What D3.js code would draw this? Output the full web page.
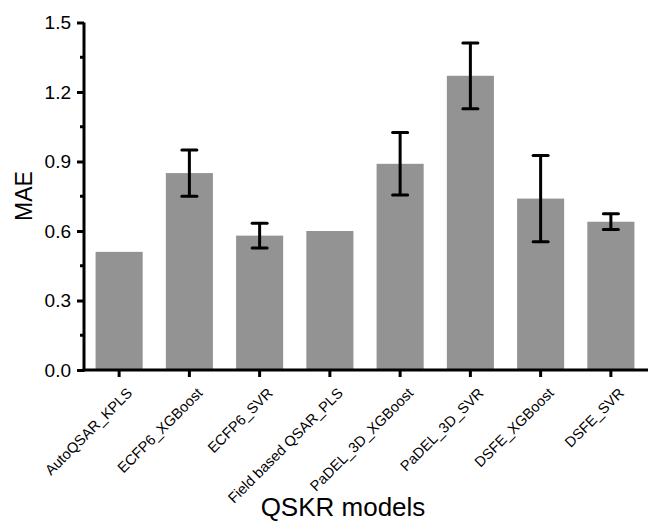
<!DOCTYPE html>
<html>
<head>
<meta charset="utf-8">
<script src="https://cdn.jsdelivr.net/npm/d3@7"></script>
<style>
  body { margin: 0; background: #fff; }
  svg, svg text { font-family: "Liberation Sans", Arial, sans-serif; }
</style>
</head>
<body>
<div id="chart"></div>
<script>
const models = ["AutoQSAR_KPLS", "ECFP6_XGBoost", "ECFP6_SVR", "Field based QSAR_PLS",
                "PaDEL_3D_XGBoost", "PaDEL_3D_SVR", "DSFE_XGBoost", "DSFE_SVR"];
const mae = [0.51, 0.85, 0.58, 0.60, 0.89, 1.27, 0.74, 0.64];
const maeErr = [0, 0.10, 0.053, 0, 0.135, 0.142, 0.186, 0.034];
const yTicks = [0, 0.3, 0.6, 0.9, 1.2, 1.5];

const W = 648, H = 523;
const plotLeft = 84, plotRight = 646, plotTop = 22.5, plotBottom = 370;

const svg = d3.select("#chart").append("svg")
    .attr("width", W)
    .attr("height", H);

const x = d3.scaleBand()
    .domain(models)
    .range([plotLeft, plotRight])
    .paddingInner(0.33)
    .paddingOuter(0.165);

const y = d3.scaleLinear()
    .domain([0, 1.5])
    .range([plotBottom, plotTop]);

// bars
svg.selectAll(".bar")
  .data(models)
  .enter().append("rect")
    .attr("class", "bar")
    .attr("x", d => x(d))
    .attr("y", (d, i) => y(mae[i]))
    .attr("width", x.bandwidth())
    .attr("height", (d, i) => y(0) - y(mae[i]))
    .attr("fill", "#939393");

// error bars
const errData = models.map((m, i) => ({ m: m, v: mae[i], e: maeErr[i] })).filter(d => d.e > 0);
const eb = svg.selectAll(".err")
  .data(errData)
  .enter().append("g")
    .attr("class", "err")
    .attr("stroke", "#000")
    .attr("stroke-width", 3);
eb.append("line")
    .attr("x1", d => x(d.m) + x.bandwidth() / 2)
    .attr("x2", d => x(d.m) + x.bandwidth() / 2)
    .attr("y1", d => y(d.v - d.e))
    .attr("y2", d => y(d.v + d.e));
eb.append("line")
    .attr("stroke-linecap", "round")
    .attr("x1", d => x(d.m) + x.bandwidth() / 2 - 7.5)
    .attr("x2", d => x(d.m) + x.bandwidth() / 2 + 7.5)
    .attr("y1", d => y(d.v + d.e))
    .attr("y2", d => y(d.v + d.e));
eb.append("line")
    .attr("stroke-linecap", "round")
    .attr("x1", d => x(d.m) + x.bandwidth() / 2 - 7.5)
    .attr("x2", d => x(d.m) + x.bandwidth() / 2 + 7.5)
    .attr("y1", d => y(d.v - d.e))
    .attr("y2", d => y(d.v - d.e));

// Y axis
const yAxis = svg.append("g")
    .attr("transform", `translate(${plotLeft},0)`)
    .call(d3.axisLeft(y).tickValues(yTicks).tickFormat(d3.format(".1f")).tickSize(7).tickPadding(6))
    .attr("font-family", null);
yAxis.select(".domain").attr("stroke-width", 3).attr("d", `M0,${plotBottom + 1.5}V${plotTop}`);
yAxis.selectAll(".tick line").attr("stroke-width", 3);
yAxis.selectAll(".tick text").attr("font-size", 19).attr("fill", "#000");

// minor ticks
const minor = d3.range(0.15, 1.5, 0.3);
svg.append("g").selectAll("line")
  .data(minor)
  .enter().append("line")
    .attr("x1", plotLeft - 4).attr("x2", plotLeft)
    .attr("y1", d => y(d)).attr("y2", d => y(d))
    .attr("stroke", "#000")
    .attr("stroke-width", 3);

// X axis
const xAxis = svg.append("g")
    .attr("transform", `translate(0,${plotBottom})`)
    .call(d3.axisBottom(x).tickSize(7).tickSizeOuter(0))
    .attr("font-family", null);
xAxis.select(".domain").attr("stroke-width", 3).attr("d", `M${plotLeft - 1.5},0H${plotRight + 2}`);
xAxis.selectAll(".tick line").attr("stroke-width", 3);
xAxis.selectAll(".tick text")
    .attr("font-size", 14.5)
    .attr("fill", "#000")
    .attr("text-anchor", "end")
    .attr("dy", null)
    .attr("y", 0)
    .attr("transform", "translate(14,24) rotate(-45)");

// axis titles
svg.append("text")
    .attr("transform", `translate(32,196) rotate(-90)`)
    .attr("text-anchor", "middle")
    .attr("font-size", 23)
    .text("MAE");

svg.append("text")
    .attr("x", 343)
    .attr("y", 516)
    .attr("text-anchor", "middle")
    .attr("font-size", 26)
    .text("QSKR models");
</script>
</body>
</html>
